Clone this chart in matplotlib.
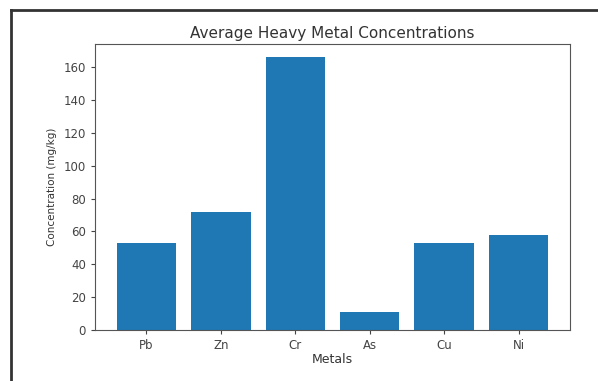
# average heavy metal concentrations bar chart

import matplotlib
matplotlib.use('Agg')
import matplotlib.pyplot as plt
from matplotlib.lines import Line2D

metals = ['Pb', 'Zn', 'Cr', 'As', 'Cu', 'Ni']
concentrations = [53.2, 72.0, 166.0, 11.0, 53.2, 57.8]

fig = plt.figure(figsize=(5.98, 3.81), dpi=100)
ax = fig.add_axes([0.159, 0.134, 0.794, 0.751])

ax.bar(metals, concentrations, color='#1f77b4')
ax.set_title('Average Heavy Metal Concentrations', fontsize=11, color='#333333', pad=4)
ax.set_xlabel('Metals', fontsize=9, color='#333333', labelpad=1)
ax.set_ylabel('Concentration (mg/kg)', fontsize=7.5, color='#333333', labelpad=5)
ax.tick_params(labelsize=8.5, colors='#444444', length=3)
for s in ax.spines.values():
    s.set_color('#555555')

# screenshot frame
fig.add_artist(Line2D([11/598, 11/598], [0, 1 - 10/381], transform=fig.transFigure, color='#333333', lw=2))
fig.add_artist(Line2D([11/598, 1], [1 - 10/381, 1 - 10/381], transform=fig.transFigure, color='#333333', lw=2))

fig.savefig('out.png', dpi=100)
